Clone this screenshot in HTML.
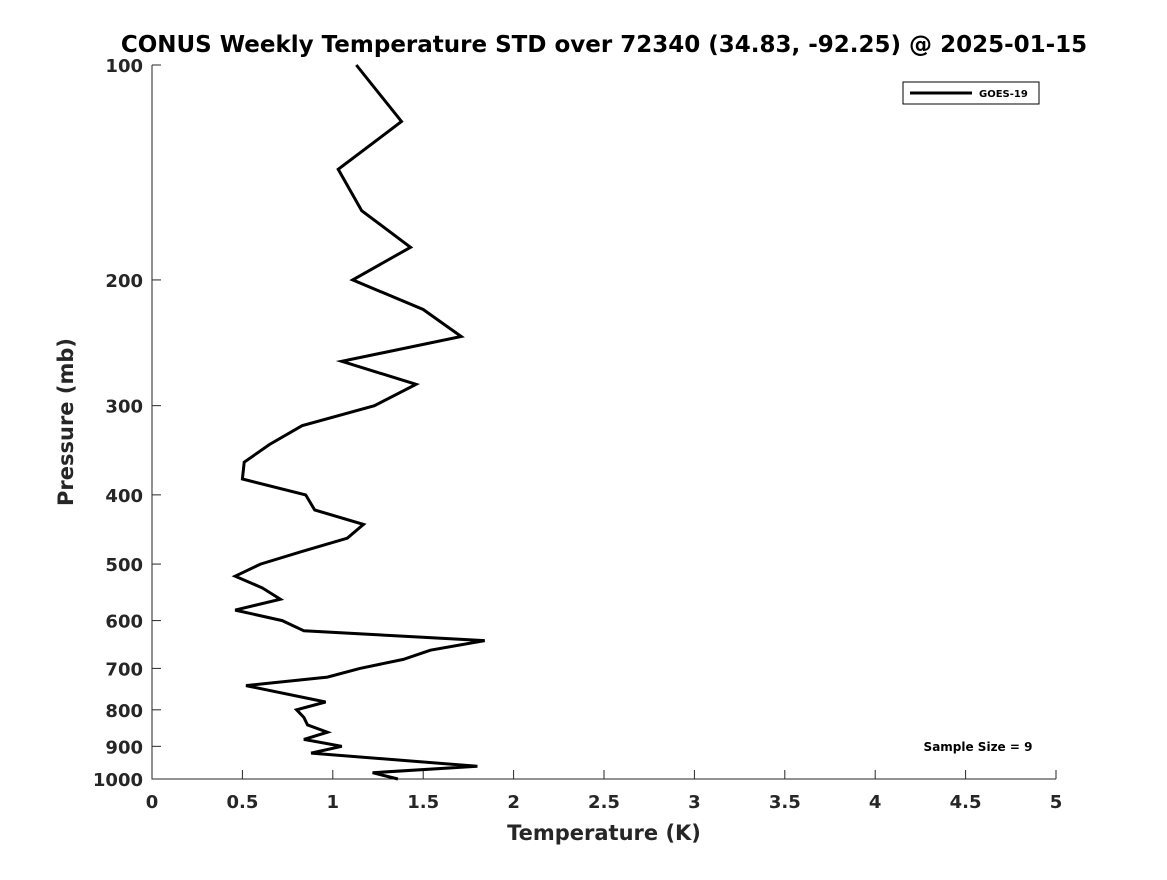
<!DOCTYPE html>
<html><head><meta charset="utf-8"><style>
body{margin:0;background:#fff;}
svg text{font-family:"DejaVu Sans","Liberation Sans",sans-serif;font-weight:bold;}
</style></head><body>
<svg id="chart" width="1167" height="875" xmlns="http://www.w3.org/2000/svg">
<rect width="1167" height="875" fill="#fff"/>
<text x="604" y="52" text-anchor="middle" font-size="23" fill="#000">CONUS Weekly Temperature STD over 72340 (34.83, -92.25) @ 2025-01-15</text>
<g id="axes"></g>
<text x="604" y="840" text-anchor="middle" font-size="21" fill="#262626">Temperature (K)</text>
<text transform="translate(73,422) rotate(-90)" text-anchor="middle" font-size="21" fill="#262626">Pressure (mb)</text>
<g>
<rect x="903" y="82" width="136" height="22" fill="#fff" stroke="#000" stroke-width="1"/>
<line x1="910" y1="93" x2="972" y2="93" stroke="#000" stroke-width="3"/>
<text x="979" y="97" font-size="10" fill="#000">GOES-19</text>
</g>
<text x="978" y="751" text-anchor="middle" font-size="12" fill="#000">Sample Size = 9</text>
</svg>
<script>
const pressures=[100,120,140,160,180,200,220,240,260,280,300,320,340,360,380,400,420,440,460,480,500,520,540,560,580,600,620,640,660,680,700,720,740,780,800,820,840,860,880,900,920,960,980,1000];
const tempStd=[1.13,1.38,1.03,1.16,1.43,1.11,1.50,1.71,1.05,1.46,1.23,0.83,0.65,0.51,0.50,0.85,0.90,1.17,1.08,0.83,0.60,0.46,0.61,0.71,0.46,0.72,0.84,1.84,1.54,1.39,1.15,0.97,0.52,0.96,0.80,0.84,0.86,0.97,0.84,1.05,0.88,1.80,1.22,1.36];
const xTicks=[0,0.5,1,1.5,2,2.5,3,3.5,4,4.5,5];
const yTicks=[100,200,300,400,500,600,700,800,900,1000];
const L=152,R=1056,T=65,B=779;
const xs=v=>L+(v-0)/(5-0)*(R-L);
const ys=p=>T+(Math.log10(p)-2)/(1)*(B-T);
const NS='http://www.w3.org/2000/svg';
const svg=document.getElementById('chart');
const g=document.getElementById('axes');
function mk(t,a){const e=document.createElementNS(NS,t);for(const k in a)e.setAttribute(k,a[k]);return e;}
const ax=mk('path',{d:`M${L},${T}L${L},${B}L${R},${B}`,fill:'none',stroke:'#262626','stroke-width':1});


g.appendChild(ax);
xTicks.forEach(v=>{
 const x=xs(v);
 const t=mk('line',{x1:x,y1:B,x2:x,y2:B-9,stroke:'#262626'});
 
 
 g.appendChild(t);
 const l=mk('text',{x:x,y:B+29,'text-anchor':'middle','font-size':18,fill:'#262626'});
 
 
 l.textContent=String(v);g.appendChild(l);
});
yTicks.forEach(p=>{
 const y=ys(p);
 const t=mk('line',{x1:L,y1:y,x2:L+9,y2:y,stroke:'#262626'});
 
 
 g.appendChild(t);
 const l=mk('text',{x:L-9,y:y+7,'text-anchor':'end','font-size':18,fill:'#262626'});
 
 
 l.textContent=String(p);g.appendChild(l);
});
const d=pressures.map((p,i)=>(i?'L':'M')+xs(tempStd[i]).toFixed(1)+','+ys(p).toFixed(1)).join('');
const line=mk('path',{d:d,fill:'none',stroke:'#000','stroke-width':3,'stroke-linejoin':'miter'});


svg.appendChild(line);
</script>
</body></html>
